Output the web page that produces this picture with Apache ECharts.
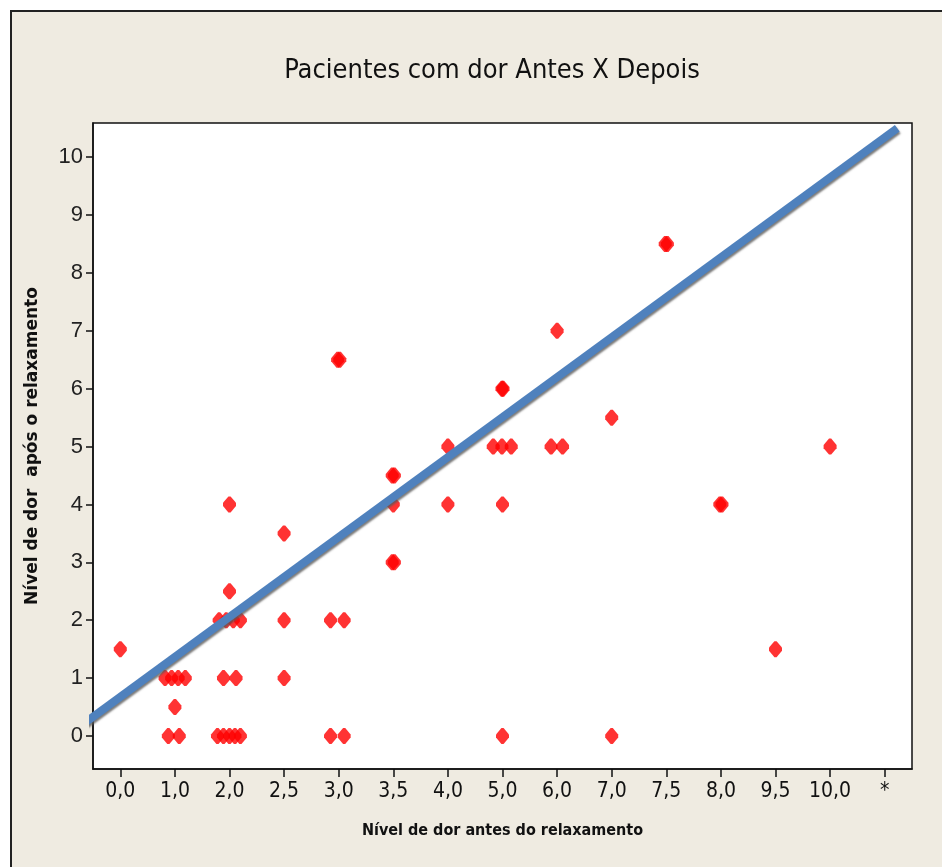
<!DOCTYPE html>
<html>
<head>
<meta charset="utf-8">
<script src="https://cdn.jsdelivr.net/npm/echarts@6/dist/echarts.min.js"></script>
<style>
html,body{margin:0;padding:0;background:#fff;overflow:hidden;}
#main{position:absolute;left:10px;top:10px;width:930px;height:855px;border-left:2px solid #222;border-top:2px solid #222;background:#EFEBE1;}
</style>
</head>
<body>
<div id="main"></div>
<script>
// categorias do eixo x (nivel antes)
var xLabels=['0,0','1,0','2,0','2,5','3,0','3,5','4,0','5,0','6,0','7,0','7,5','8,0','9,5','10,0','*'];
var xTicks=[0,1,2,3,4,5,6,7,8,9,10,11,12,13,14];
var yTicks=[0,1,2,3,4,5,6,7,8,9,10];

// posicao (indice da categoria, com jitter) e nivel depois
var antesPos=[0.00,
	0.82,0.94,1.06,1.19,1.00,0.88,1.08,
	2.00,2.00,1.81,1.94,2.07,2.20,1.89,2.12,1.78,1.89,2.00,2.10,2.20,
	3.00,3.00,3.00,
	3.98,4.02,3.85,4.10,3.85,4.10,
	4.98,5.02,5.00,4.98,5.02,
	6.00,6.00,
	6.99,7.01,6.83,6.99,7.16,7.00,7.00,
	8.00,7.89,8.10,
	9.00,9.00,
	9.98,10.02,
	10.98,11.02,
	12.00,
	13.00];
var depois=[1.5,
	1,1,1,1,0.5,0,0,
	4,2.5,2,2,2,2,1,1,0,0,0,0,0,
	3.5,2,1,
	6.5,6.5,2,2,0,0,
	4.5,4.5,4,3,3,
	5,4,
	6,6,5,5,5,4,0,
	7,5,5,
	5.5,0,
	8.5,8.5,
	4,4,
	1.5,
	5];

// reta ajustada (extremos)
var fitX=[-0.66,14.23];
var fitY=[0.22,10.50];

var pts=[];
for(var i=0;i<antesPos.length;++i){
	pts.push([antesPos[i],depois[i]]);
}
var fit=[];
for(var j=0;j<fitX.length;++j){
	fit.push([fitX[j],fitY[j]]);
}

var narrow="'DejaVu Sans Condensed','Liberation Sans',sans-serif";

var myChart=echarts.init(document.getElementById('main'));
var option={
	animation:false,
	title:{
		text:'Pacientes com dor Antes X Depois',
		left:475,
		textAlign:'center',
		top:40,
		textStyle:{fontFamily:narrow,fontSize:27,fontWeight:'normal',color:'#111'}
	},
	grid:{
		left:81,top:111,width:819,height:646,
		show:true,backgroundColor:'#fff',borderColor:'#111',borderWidth:1.5
	},
	xAxis:{
		type:'value',
		min:-0.5,max:14.5,
		name:'Nível de dor antes do relaxamento',
		nameLocation:'middle',
		nameGap:54,
		nameTextStyle:{fontFamily:narrow,fontWeight:'bold',fontSize:16,color:'#111'},
		axisLine:{onZero:false,lineStyle:{color:'#111',width:1.5}},
		axisTick:{show:true,length:8,customValues:xTicks,lineStyle:{color:'#111',width:1.5}},
		axisLabel:{
			customValues:xTicks,
			margin:12,
			fontFamily:narrow,fontSize:21,color:'#111',
			formatter:function(v){return xLabels[Math.round(v)];}
		},
		splitLine:{show:false}
	},
	yAxis:{
		type:'value',
		min:-0.57,max:10.59,
		name:'Nível de dor  após o relaxamento',
		nameLocation:'middle',
		nameGap:52,
		nameTextStyle:{fontFamily:'DejaVu Sans',fontWeight:'bold',fontSize:17,color:'#111'},
		axisLine:{show:true,onZero:false,lineStyle:{color:'#111',width:1.5}},
		axisTick:{show:true,length:7,customValues:yTicks,lineStyle:{color:'#111',width:1.5}},
		axisLabel:{
			customValues:yTicks,
			margin:10,
			fontFamily:'Liberation Sans',fontSize:22,color:'#222'
		},
		splitLine:{show:false}
	},
	series:[
		{
			name:'pacientes',
			type:'scatter',
			symbol:'path://M5,0 L7,0 L12,6 L12,9 L7,15 L5,15 L0,9 L0,6 Z',
			symbolSize:[13,16],
			itemStyle:{color:'#FF0000'},
			data:pts,
			z:2
		},
		{
			name:'ajuste',
			type:'line',
			symbol:'none',
			clip:false,
			lineStyle:{color:'#4F81BD',width:8,shadowColor:'rgba(90,90,90,0.8)',shadowBlur:2,shadowOffsetX:1,shadowOffsetY:2},
			data:fit,
			z:3
		}
	]
};
myChart.setOption(option);
</script>
</body>
</html>
